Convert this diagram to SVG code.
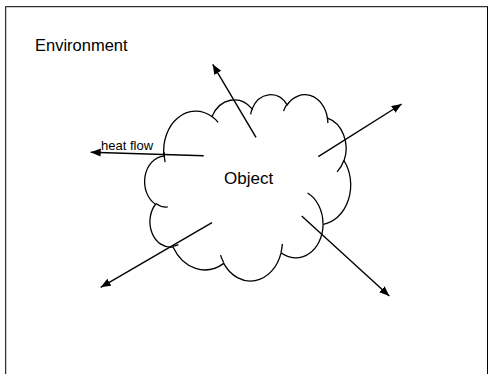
<svg xmlns="http://www.w3.org/2000/svg" width="488" height="374" viewBox="0 0 488 374">
  <style>
    .frame { fill: none; stroke: #000; stroke-width: 1; }
    .cloud { fill: #fff; stroke: #000; stroke-width: 1.3; vector-effect: non-scaling-stroke; }
    .cloud-detail { fill: none; stroke: #000; stroke-width: 1.3; vector-effect: non-scaling-stroke; }
    .flow { fill: none; stroke: #000; stroke-width: 1.4; marker-end: url(#head); }
    .label { font-family: "Liberation Sans", Arial, sans-serif; fill: #000; }
  </style>
  <defs>
    <marker id="head" markerUnits="userSpaceOnUse" markerWidth="12" markerHeight="10" refX="10" refY="4" orient="auto">
      <path d="M0,0 L10,4 L0,8 Z" fill="#000"/>
    </marker>
  </defs>

  <rect width="488" height="374" fill="#fff"/>

  <!-- environment boundary -->
  <g id="environment">
    <rect class="frame" x="5.7" y="6.7" width="481.8" height="380"/>
    <text class="label" x="35" y="51" font-size="16.5">Environment</text>
  </g>

  <!-- object: preset cloud outline in 43200-unit space -->
  <g id="object">
    <g transform="translate(145.46 94.1) scale(0.004749 0.004311)">
      <path class="cloud" d="M3900 14370
        A6753 9190 0 0 1 14005 5202
        A5333 7267 0 0 1 22456 3432
        A4365 5945 0 0 1 29833 2480
        A4857 6595 0 0 1 38318 5576
        A5333 7273 0 0 1 41818 15459
        A6775 9220 0 0 1 37406 30203
        A5785 7867 0 0 1 28558 36813
        A6752 9215 0 0 1 16482 39264
        A7720 10543 0 0 1 5806 35470
        A4360 5918 0 0 1 2115 25548
        A4345 5945 0 0 1 3900 14370 Z"/>
      <path class="cloud-detail" d="M4693 26177 A4345 5945 0 0 1 2160 25380
        M6928 34899 A4360 5918 0 0 1 5820 35281
        M16478 39090 A6752 9215 0 0 1 15810 37350
        M28827 34751 A6752 9215 0 0 1 28560 36660
        M34129 22954 A5785 7867 0 0 1 37380 30090
        M41798 15354 A5333 7273 0 0 1 40350 18030
        M38324 5426 A4857 6595 0 0 1 38400 6690
        M29078 3952 A4857 6595 0 0 1 29820 2340
        M22141 4720 A4365 5945 0 0 1 22500 3330
        M14000 5192 A6753 9190 0 0 1 15300 6541
        M4127 15789 A6753 9190 0 0 1 3944 13488"/>
    </g>
    <text class="label" x="224" y="184" font-size="17">Object</text>
  </g>

  <!-- heat flow arrows leaving the object -->
  <g id="connectors">
    <line class="flow" x1="203.7" y1="155.7" x2="90.7" y2="152.3"/>
    <line class="flow" x1="256" y1="137.3" x2="212.7" y2="64.3"/>
    <line class="flow" x1="318.3" y1="156.7" x2="401.7" y2="104"/>
    <line class="flow" x1="212" y1="222.7" x2="100.7" y2="287.3"/>
    <line class="flow" x1="301.7" y1="216" x2="389.3" y2="296"/>
  </g>

  <g id="heat-flow-label">
    <text class="label" x="101" y="150" font-size="13">heat flow</text>
  </g>
</svg>
